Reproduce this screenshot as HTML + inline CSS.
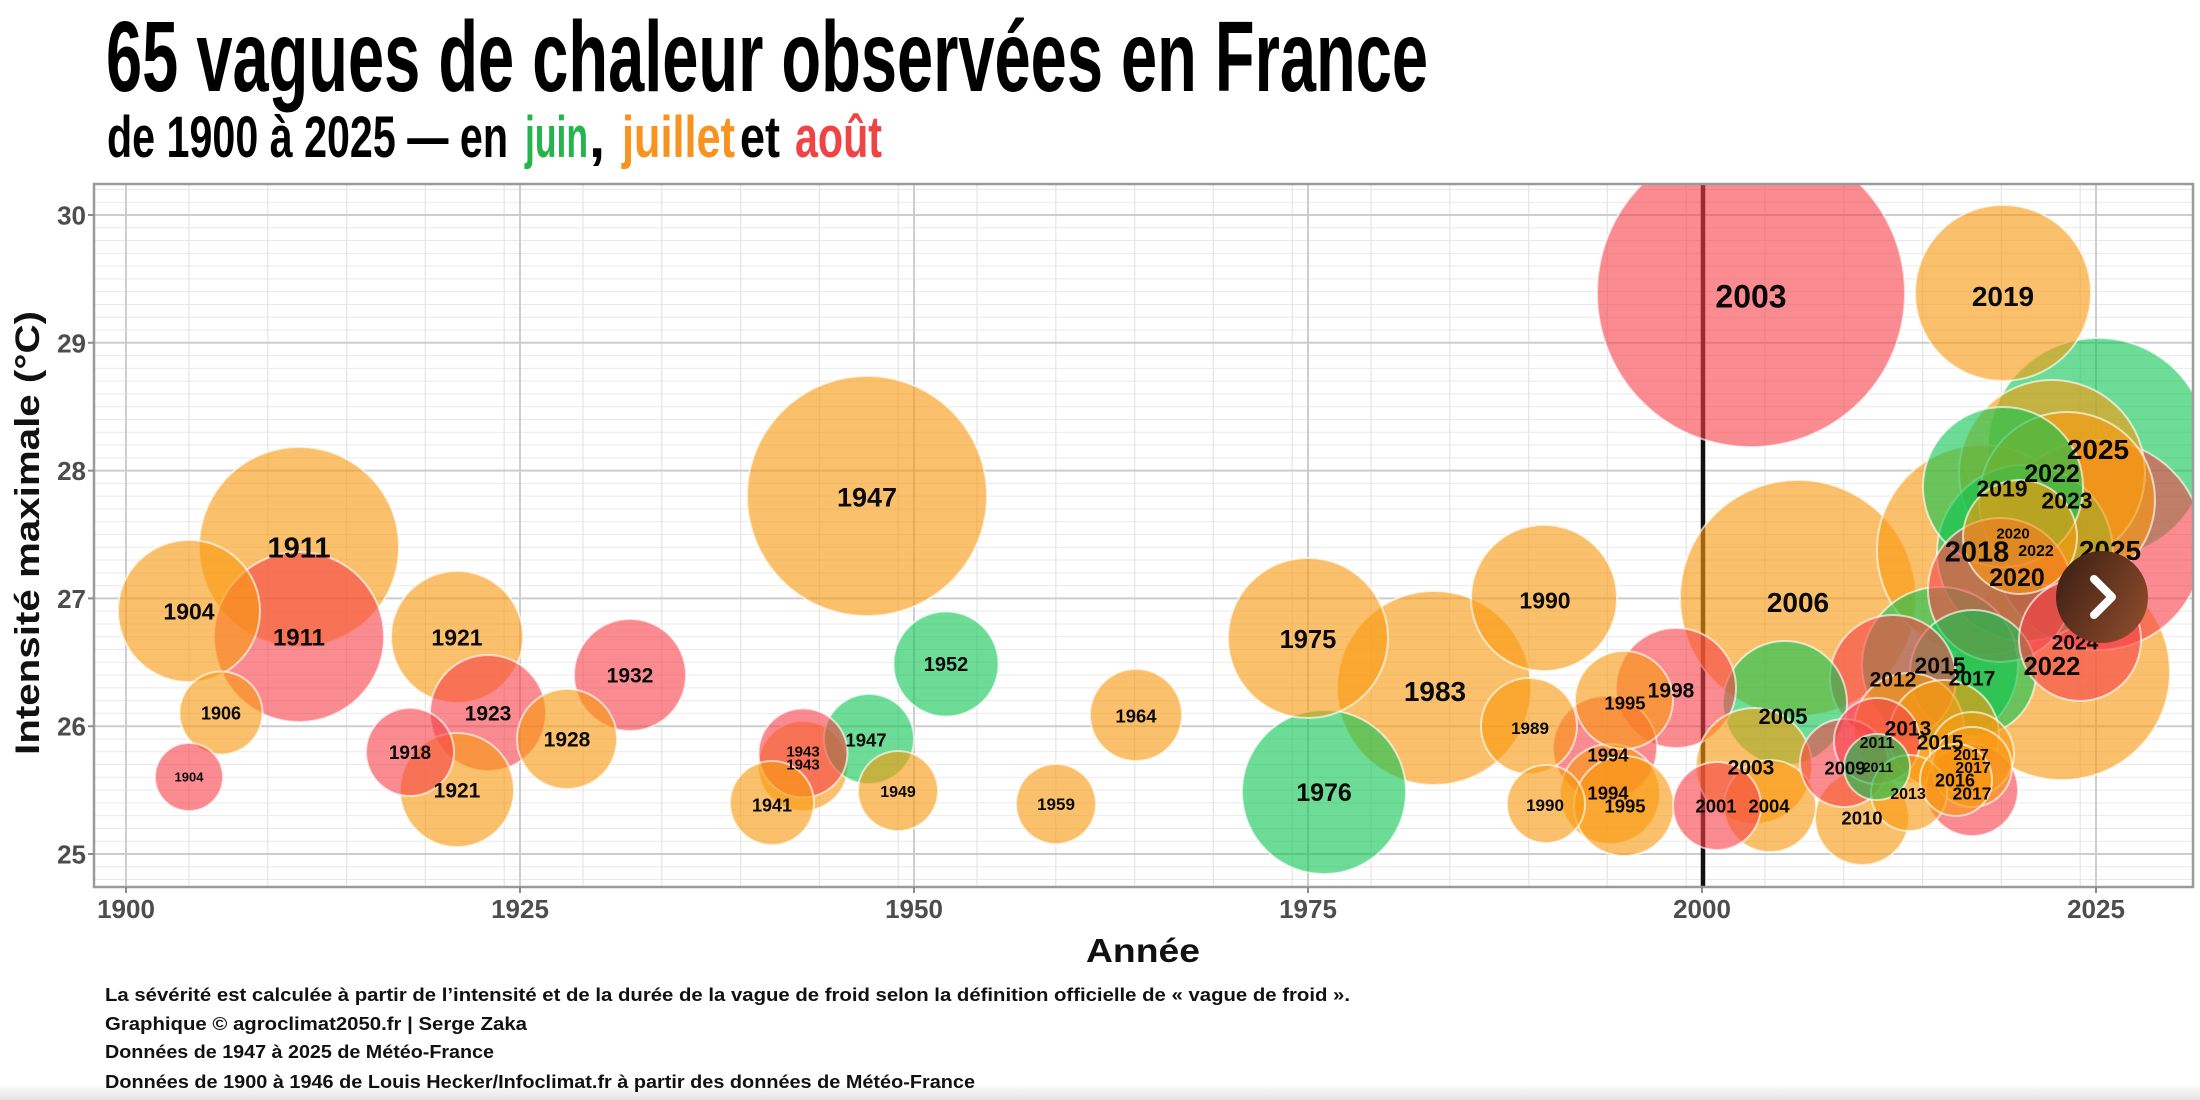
<!DOCTYPE html>
<html><head><meta charset="utf-8"><style>
html,body{margin:0;padding:0;background:#fff;}
svg{display:block;}
text{font-family:"Liberation Sans","DejaVu Sans",sans-serif;}
</style></head><body>
<svg width="2200" height="1100" viewBox="0 0 2200 1100" xmlns="http://www.w3.org/2000/svg">
<defs>
<clipPath id="pc"><rect x="94" y="184" width="2099" height="703"/></clipPath>
<linearGradient id="btn" x1="0" y1="0.2" x2="1" y2="0.8"><stop offset="0" stop-color="#3f1f14"/><stop offset="1" stop-color="#8d4c2b"/></linearGradient>
<linearGradient id="bot" x1="0" y1="0" x2="0" y2="1"><stop offset="0" stop-color="#ffffff"/><stop offset="1" stop-color="#e4e4e4"/></linearGradient>
</defs>
<rect x="0" y="0" width="2200" height="1100" fill="#fff"/>
<rect x="0" y="1084" width="2200" height="16" fill="url(#bot)"/>

<!-- Title -->
<text x="106" y="91" font-size="100" font-weight="bold" fill="#000" textLength="1322" lengthAdjust="spacingAndGlyphs">65 vagues de chaleur observées en France</text>
<text x="107" y="157" font-size="58" font-weight="bold" fill="#000" textLength="401" lengthAdjust="spacingAndGlyphs">de 1900 à 2025 — en</text>
<text x="525" y="157" font-size="58" font-weight="bold" fill="#25b34b" textLength="63" lengthAdjust="spacingAndGlyphs">juin</text>
<text x="589" y="157" font-size="58" font-weight="bold" fill="#000">,</text>
<text x="622" y="157" font-size="58" font-weight="bold" fill="#f7931e" textLength="113" lengthAdjust="spacingAndGlyphs">juillet</text>
<text x="740" y="157" font-size="58" font-weight="bold" fill="#000" textLength="40" lengthAdjust="spacingAndGlyphs">et</text>
<text x="795" y="157" font-size="58" font-weight="bold" fill="#ef4444" textLength="87" lengthAdjust="spacingAndGlyphs">août</text>

<!-- Panel -->
<rect x="94" y="184" width="2099" height="703" fill="#fff"/>
<g clip-path="url(#pc)">
<path stroke="#e9e9e9" stroke-width="1" fill="none" d="M94 879.56H2193M94 866.78H2193M94 841.22H2193M94 828.44H2193M94 815.66H2193M94 802.88H2193M94 790.1H2193M94 777.32H2193M94 764.54H2193M94 751.76H2193M94 738.98H2193M94 713.42H2193M94 700.64H2193M94 687.86H2193M94 675.08H2193M94 662.3H2193M94 649.52H2193M94 636.74H2193M94 623.96H2193M94 611.18H2193M94 585.62H2193M94 572.84H2193M94 560.06H2193M94 547.28H2193M94 534.5H2193M94 521.72H2193M94 508.94H2193M94 496.16H2193M94 483.38H2193M94 457.82H2193M94 445.04H2193M94 432.26H2193M94 419.48H2193M94 406.7H2193M94 393.92H2193M94 381.14H2193M94 368.36H2193M94 355.58H2193M94 330.02H2193M94 317.24H2193M94 304.46H2193M94 291.68H2193M94 278.9H2193M94 266.12H2193M94 253.34H2193M94 240.56H2193M94 227.78H2193M94 202.22H2193M94 189.44H2193"/>
<path stroke="#e6e6e6" stroke-width="1.3" fill="none" d="M189 184V887M267.8 184V887M346.6 184V887M425.4 184V887M504.2 184V887M583 184V887M661.8 184V887M740.6 184V887M819.4 184V887M898.2 184V887M977 184V887M1055.8 184V887M1134.6 184V887M1213.4 184V887M1292.2 184V887M1371 184V887M1449.8 184V887M1528.6 184V887M1607.4 184V887M1686.2 184V887M1765 184V887M1843.8 184V887M1922.6 184V887M2001.4 184V887M2080.2 184V887"/>
<path stroke="#cdcdcd" stroke-width="2" fill="none" d="M94 854H2193M94 726.2H2193M94 598.4H2193M94 470.6H2193M94 342.8H2193M94 215H2193M126 184V887M520 184V887M914 184V887M1308 184V887M1702 184V887M2096 184V887"/>
<line x1="1703" y1="184" x2="1703" y2="887" stroke="#111" stroke-width="4.5"/>

<g stroke="rgba(255,255,255,0.65)" stroke-width="2">
<circle cx="1751" cy="293" r="154" fill="#f73f48" fill-opacity="0.6"/>
<circle cx="867" cy="496" r="120" fill="#f99a10" fill-opacity="0.62"/>
<circle cx="1798" cy="598" r="118" fill="#f99a10" fill-opacity="0.62"/>
<circle cx="2098" cy="448" r="110" fill="#0ac550" fill-opacity="0.6"/>
<circle cx="2062" cy="672" r="108" fill="#f99a10" fill-opacity="0.62"/>
<circle cx="1982" cy="550" r="105" fill="#f99a10" fill-opacity="0.62"/>
<circle cx="2098" cy="545" r="105" fill="#f73f48" fill-opacity="0.6"/>
<circle cx="299" cy="547" r="100" fill="#f99a10" fill-opacity="0.62"/>
<circle cx="1434" cy="688" r="97" fill="#f99a10" fill-opacity="0.62"/>
<circle cx="2052" cy="473" r="93" fill="#f99a10" fill-opacity="0.62"/>
<circle cx="2003" cy="293" r="88" fill="#f99a10" fill-opacity="0.62"/>
<circle cx="2025" cy="553" r="88" fill="#0ac550" fill-opacity="0.6"/>
<circle cx="2067" cy="500" r="88" fill="#f99a10" fill-opacity="0.62"/>
<circle cx="299" cy="637" r="85" fill="#f73f48" fill-opacity="0.6"/>
<circle cx="1324" cy="792" r="82" fill="#0ac550" fill-opacity="0.6"/>
<circle cx="1308" cy="638" r="80" fill="#f99a10" fill-opacity="0.62"/>
<circle cx="2003" cy="487" r="80" fill="#0ac550" fill-opacity="0.6"/>
<circle cx="1940" cy="665" r="78" fill="#0ac550" fill-opacity="0.6"/>
<circle cx="1544" cy="598" r="73" fill="#f99a10" fill-opacity="0.62"/>
<circle cx="2000" cy="590" r="72" fill="#f73f48" fill-opacity="0.6"/>
<circle cx="189" cy="611" r="71" fill="#f99a10" fill-opacity="0.62"/>
<circle cx="457" cy="637" r="66" fill="#f99a10" fill-opacity="0.62"/>
<circle cx="1973" cy="673" r="63" fill="#0ac550" fill-opacity="0.6"/>
<circle cx="1893" cy="678" r="63" fill="#f73f48" fill-opacity="0.6"/>
<circle cx="1785" cy="703" r="62" fill="#0ac550" fill-opacity="0.6"/>
<circle cx="2080" cy="640" r="61" fill="#f73f48" fill-opacity="0.6"/>
<circle cx="1676" cy="688" r="60" fill="#f73f48" fill-opacity="0.6"/>
<circle cx="488" cy="713" r="58" fill="#f73f48" fill-opacity="0.6"/>
<circle cx="1754" cy="766" r="58" fill="#f99a10" fill-opacity="0.62"/>
<circle cx="457" cy="790" r="57" fill="#f99a10" fill-opacity="0.62"/>
<circle cx="2020" cy="537" r="57" fill="#f99a10" fill-opacity="0.62"/>
<circle cx="630" cy="675" r="56" fill="#f73f48" fill-opacity="0.6"/>
<circle cx="1909" cy="728" r="55" fill="#f99a10" fill-opacity="0.62"/>
<circle cx="1944" cy="735" r="55" fill="#f99a10" fill-opacity="0.62"/>
<circle cx="946" cy="664" r="52.5" fill="#0ac550" fill-opacity="0.6"/>
<circle cx="1605" cy="748" r="52" fill="#f73f48" fill-opacity="0.6"/>
<circle cx="567" cy="739" r="50" fill="#f99a10" fill-opacity="0.62"/>
<circle cx="1610" cy="794" r="50" fill="#f99a10" fill-opacity="0.62"/>
<circle cx="1624" cy="806" r="50" fill="#f99a10" fill-opacity="0.62"/>
<circle cx="1624" cy="700" r="49" fill="#f99a10" fill-opacity="0.62"/>
<circle cx="1529" cy="726" r="48" fill="#f99a10" fill-opacity="0.62"/>
<circle cx="1862" cy="818" r="47" fill="#f99a10" fill-opacity="0.62"/>
<circle cx="1972" cy="790" r="46" fill="#f73f48" fill-opacity="0.6"/>
<circle cx="1136" cy="715" r="46" fill="#f99a10" fill-opacity="0.62"/>
<circle cx="1770" cy="806" r="46" fill="#f99a10" fill-opacity="0.62"/>
<circle cx="803" cy="766" r="45" fill="#f99a10" fill-opacity="0.62"/>
<circle cx="869" cy="739" r="45" fill="#0ac550" fill-opacity="0.6"/>
<circle cx="803" cy="753" r="44.5" fill="#f73f48" fill-opacity="0.6"/>
<circle cx="410" cy="752" r="44" fill="#f73f48" fill-opacity="0.6"/>
<circle cx="1717" cy="806" r="44" fill="#f73f48" fill-opacity="0.6"/>
<circle cx="1844" cy="763" r="44" fill="#f73f48" fill-opacity="0.6"/>
<circle cx="1877" cy="741" r="43" fill="#f73f48" fill-opacity="0.6"/>
<circle cx="1972" cy="754" r="42" fill="#f99a10" fill-opacity="0.62"/>
<circle cx="772" cy="803" r="42" fill="#f99a10" fill-opacity="0.62"/>
<circle cx="221" cy="713" r="41.5" fill="#f99a10" fill-opacity="0.62"/>
<circle cx="1972" cy="767" r="40" fill="#f99a10" fill-opacity="0.62"/>
<circle cx="898" cy="791" r="40" fill="#f99a10" fill-opacity="0.62"/>
<circle cx="1056" cy="804" r="40" fill="#f99a10" fill-opacity="0.62"/>
<circle cx="1546" cy="804" r="39" fill="#f99a10" fill-opacity="0.62"/>
<circle cx="1909" cy="793" r="38" fill="#f99a10" fill-opacity="0.62"/>
<circle cx="1956" cy="780" r="36" fill="#f99a10" fill-opacity="0.62"/>
<circle cx="189" cy="777" r="34" fill="#f73f48" fill-opacity="0.6"/>
<circle cx="1877" cy="767" r="33" fill="#0ac550" fill-opacity="0.6"/>
</g>

<g font-weight="bold" fill="#0a0a0a" text-anchor="middle">
<text x="189" y="611" dy="0.36em" font-size="23">1904</text>
<text x="299" y="547" dy="0.36em" font-size="29">1911</text>
<text x="299" y="637" dy="0.36em" font-size="24">1911</text>
<text x="221" y="713" dy="0.36em" font-size="18">1906</text>
<text x="189" y="777" dy="0.36em" font-size="13">1904</text>
<text x="457" y="637" dy="0.36em" font-size="23">1921</text>
<text x="488" y="713" dy="0.36em" font-size="21">1923</text>
<text x="410" y="752" dy="0.36em" font-size="19">1918</text>
<text x="457" y="790" dy="0.36em" font-size="21">1921</text>
<text x="567" y="739" dy="0.36em" font-size="21">1928</text>
<text x="630" y="675" dy="0.36em" font-size="21">1932</text>
<text x="772" y="805" dy="0.36em" font-size="18">1941</text>
<text x="803" y="751" dy="0.36em" font-size="15">1943</text>
<text x="803" y="764" dy="0.36em" font-size="15">1943</text>
<text x="867" y="497" dy="0.36em" font-size="27">1947</text>
<text x="866" y="740" dy="0.36em" font-size="18.5">1947</text>
<text x="898" y="791" dy="0.36em" font-size="16">1949</text>
<text x="946" y="664" dy="0.36em" font-size="20">1952</text>
<text x="1056" y="804" dy="0.36em" font-size="17">1959</text>
<text x="1136" y="716" dy="0.36em" font-size="18.5">1964</text>
<text x="1308" y="639" dy="0.36em" font-size="25.5">1975</text>
<text x="1324" y="792" dy="0.36em" font-size="25">1976</text>
<text x="1435" y="691" dy="0.36em" font-size="28">1983</text>
<text x="1545" y="600" dy="0.36em" font-size="23">1990</text>
<text x="1530" y="728" dy="0.36em" font-size="17">1989</text>
<text x="1545" y="805" dy="0.36em" font-size="17">1990</text>
<text x="1625" y="703" dy="0.36em" font-size="18.5">1995</text>
<text x="1671" y="690" dy="0.36em" font-size="21">1998</text>
<text x="1608" y="755" dy="0.36em" font-size="18.5">1994</text>
<text x="1608" y="793" dy="0.36em" font-size="18.5">1994</text>
<text x="1625" y="806" dy="0.36em" font-size="18.5">1995</text>
<text x="1751" y="296" dy="0.36em" font-size="32">2003</text>
<text x="2003" y="296" dy="0.36em" font-size="28">2019</text>
<text x="1751" y="767" dy="0.36em" font-size="21">2003</text>
<text x="1716" y="806" dy="0.36em" font-size="18.5">2001</text>
<text x="1769" y="806" dy="0.36em" font-size="18.5">2004</text>
<text x="1783" y="716" dy="0.36em" font-size="22">2005</text>
<text x="1798" y="602" dy="0.36em" font-size="28">2006</text>
<text x="1845" y="768" dy="0.36em" font-size="18.5">2009</text>
<text x="1862" y="818" dy="0.36em" font-size="18.5">2010</text>
<text x="1877" y="742" dy="0.36em" font-size="16">2011</text>
<text x="1878" y="767" dy="0.36em" font-size="14">2011</text>
<text x="1893" y="679" dy="0.36em" font-size="21">2012</text>
<text x="1908" y="728" dy="0.36em" font-size="21">2013</text>
<text x="1908" y="793" dy="0.36em" font-size="16">2013</text>
<text x="1940" y="665" dy="0.36em" font-size="23">2015</text>
<text x="1940" y="742" dy="0.36em" font-size="21">2015</text>
<text x="1972" y="678" dy="0.36em" font-size="21">2017</text>
<text x="1971" y="754" dy="0.36em" font-size="16">2017</text>
<text x="1955" y="780" dy="0.36em" font-size="18">2016</text>
<text x="1973" y="767" dy="0.36em" font-size="16">2017</text>
<text x="1972" y="793" dy="0.36em" font-size="17.5">2017</text>
<text x="2052" y="666" dy="0.36em" font-size="25.5">2022</text>
<text x="2075" y="642" dy="0.36em" font-size="21">2024</text>
<text x="2002" y="488" dy="0.36em" font-size="23">2019</text>
<text x="2052" y="473" dy="0.36em" font-size="25">2022</text>
<text x="2067" y="500" dy="0.36em" font-size="23">2023</text>
<text x="2098" y="449" dy="0.36em" font-size="28">2025</text>
<text x="1977" y="551" dy="0.36em" font-size="29">2018</text>
<text x="2013" y="533" dy="0.36em" font-size="15">2020</text>
<text x="2036" y="550" dy="0.36em" font-size="16">2022</text>
<text x="2017" y="577" dy="0.36em" font-size="25">2020</text>
<text x="2110" y="550" dy="0.36em" font-size="28">2025</text>
</g>
</g>
<rect x="94" y="184" width="2099" height="703" fill="none" stroke="#9a9a9a" stroke-width="2.5"/>

<!-- ticks -->
<path stroke="#8a8a8a" stroke-width="2" d="M88 854H94M88 726.2H94M88 598.4H94M88 470.6H94M88 342.8H94M88 215H94M126 887V893M520 887V893M914 887V893M1308 887V893M1702 887V893M2096 887V893"/>
<g font-weight="bold" fill="#4d4d4d" font-size="26" text-anchor="end">
<text x="86" y="863.5">25</text>
<text x="86" y="735.7">26</text>
<text x="86" y="607.9">27</text>
<text x="86" y="480.1">28</text>
<text x="86" y="352.3">29</text>
<text x="86" y="224.5">30</text>
</g>
<g font-weight="bold" fill="#4d4d4d" font-size="26" text-anchor="middle">
<text x="126" y="918">1900</text>
<text x="520" y="918">1925</text>
<text x="914" y="918">1950</text>
<text x="1308" y="918">1975</text>
<text x="1702" y="918">2000</text>
<text x="2096" y="918">2025</text>
</g>
<text x="1086" y="962" font-size="33" font-weight="bold" fill="#111" textLength="114" lengthAdjust="spacingAndGlyphs">Année</text>
<text transform="translate(39,533) rotate(-90)" x="-222" y="0" font-size="34" font-weight="bold" fill="#111" textLength="444" lengthAdjust="spacingAndGlyphs">Intensité maximale (°C)</text>

<!-- footer -->
<g font-size="18" font-weight="bold" fill="#111">
<text x="105" y="1001" textLength="1245" lengthAdjust="spacingAndGlyphs">La sévérité est calculée à partir de l’intensité et de la durée de la vague de froid selon la définition officielle de « vague de froid ».</text>
<text x="105" y="1030" textLength="422" lengthAdjust="spacingAndGlyphs">Graphique © agroclimat2050.fr | Serge Zaka</text>
<text x="105" y="1058" textLength="389" lengthAdjust="spacingAndGlyphs">Données de 1947 à 2025 de Météo-France</text>
<text x="105" y="1088" textLength="870" lengthAdjust="spacingAndGlyphs">Données de 1900 à 1946 de Louis Hecker/Infoclimat.fr à partir des données de Météo-France</text>
</g>

<!-- overlay button -->
<circle cx="2102" cy="597" r="46" fill="url(#btn)"/>
<polyline points="2094,579 2112,597 2094,615" fill="none" stroke="#fff" stroke-width="8" stroke-linecap="round" stroke-linejoin="round"/>
</svg>
</body></html>
